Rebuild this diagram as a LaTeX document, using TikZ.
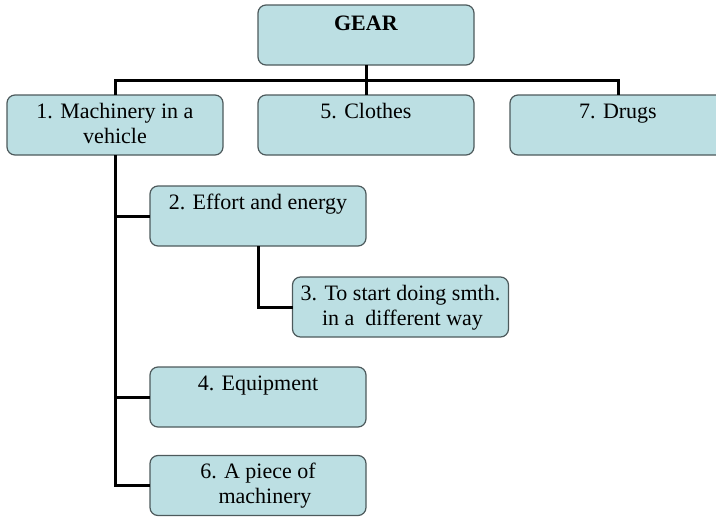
\documentclass[tikz,border=0pt]{standalone}
\usepackage{fontspec}
\setmainfont{Liberation Serif}
\definecolor{boxfill}{HTML}{BCDFE3}
\definecolor{boxline}{HTML}{4D5A5C}
\newcommand{\boxtext}[2][23pt]{\parbox[c][60pt][t]{216pt}{\centering\fontsize{22}{25}\selectfont\rule{0pt}{#1}#2}}
\begin{document}
\begin{tikzpicture}[x=1pt,y=-1pt,
  gbox/.style={draw=boxline,line width=1.2pt,fill=boxfill,rounded corners=8pt,inner sep=0pt,outer sep=0pt},
  conn/.style={draw=black,line width=3pt}]
\useasboundingbox (0,0) rectangle (716,517);
\begin{scope}
\clip (0,0) rectangle (716,517);
% nodes
\node[gbox] (gear) at (366,35) {\boxtext[25pt]{\textbf{GEAR}}};
\node[gbox] (b1) at (115,125) {\boxtext{1. Machinery in a\\vehicle}};
\node[gbox] (b5) at (366,125) {\boxtext{5. Clothes}};
\node[gbox] (b7) at (618,125) {\boxtext{7. Drugs}};
\node[gbox] (b2) at (258,216) {\boxtext{2. Effort and energy}};
\node[gbox] (b3) at (400.5,307) {\boxtext{3. To start doing smth.\\\hspace*{4pt}in a~ different way}};
\node[gbox] (b4) at (258,397) {\boxtext{4. Equipment}};
\node[gbox] (b6) at (258,485.5) {\boxtext{6. A piece of\\\hspace*{14pt}machinery}};
% connectors
\draw[conn] (gear.south) -- (b5.north);
\draw[conn] (b1.north) -- ++(0,-15) -| (b7.north);
\draw[conn] (b1.south) |- (b2.west);
\draw[conn] (b1.south) |- (b4.west);
\draw[conn] (b1.south) |- (b6.west);
\draw[conn] (b2.south) |- (b3.west);
\end{scope}
\end{tikzpicture}
\end{document}
